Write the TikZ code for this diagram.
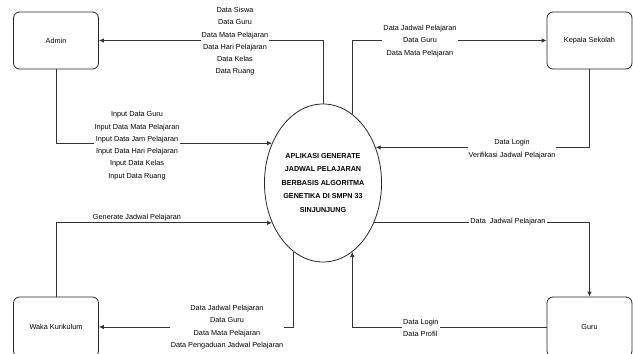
\documentclass[tikz,border=0pt]{standalone}
\usepackage{fontspec}
\setmainfont{Liberation Sans}
\usetikzlibrary{shapes.geometric,arrows.meta}

\begin{document}
\begin{tikzpicture}[x=1pt,y=-1pt,
  entity/.style={draw=black!85,line width=0.8pt,rounded corners=6pt,minimum width=85pt,inner sep=0pt,
    font=\fontsize{7.3}{9}\selectfont},
  process/.style={draw=black!85,line width=0.8pt,ellipse,minimum width=112pt,minimum height=158pt,inner sep=0pt,
    align=center,font=\fontsize{7.2}{13.5}\selectfont\bfseries},
  flow/.style={draw=black!80,line width=0.8pt,-{Latex[length=5pt,width=4.5pt]}},
  flowlabel/.style={fill=white,inner sep=1pt,align=center,font=\fontsize{7.3}{12.3}\selectfont}
]
\useasboundingbox (0,0) rectangle (633,354);
\clip (0,0) rectangle (633,354);

% external entities
\node[entity,minimum height=57pt] (admin)  at (56,40.5)   {Admin};
\node[entity,minimum height=57pt] (kepsek) at (589.5,40.5) {Kepala Sekolah};
\node[entity,minimum height=60pt] (waka)   at (56,327)    {Waka Kurikulum};
\node[entity,minimum height=60pt] (guru)   at (589.5,327) {Guru};

% the process
\node[process] (proc) at (323,183)
  {APLIKASI GENERATE\\JADWAL PELAJARAN\\BERBASIS ALGORITMA\\GENETIKA DI SMPN 33\\SINJUNJUNG};

% data flows
\draw[flow] (proc.north) |- (admin.east);
\draw[flow] (proc.67.7) |- (kepsek.west);
\draw[flow] (kepsek.south) |- (proc.34.9);
\draw[flow] (admin.south) |- (proc.142.3);
\draw[flow] (waka.north) |- (proc.218.7);
\draw[flow] (proc.247.7) |- (waka.east);
\draw[flow] (proc.-38.7) -| (guru.north);
\draw[flow] (guru.west) -| (proc.-67.7);

% flow labels
\node[flowlabel] (l1) at (235,41.3)
  {Data Siswa\\Data Guru\\Data Mata Pelajaran\\Data Hari Pelajaran\\Data Kelas\\Data Ruang};
\node[flowlabel] (l2) at (420,41)
  {Data Jadwal Pelajaran\\Data Guru\\Data Mata Pelajaran};
\node[flowlabel] (l3) at (512,149)
  {Data Login\\Verifikasi Jadwal Pelajaran};
\node[flowlabel] (l4) at (137,145.7)
  {Input Data Guru\\Input Data Mata Pelajaran\\Input Data Jam Pelajaran\\Input Data Hari Pelajaran\\Input Data Kelas\\Input Data Ruang};
\node[flowlabel] (l5) at (137,218) {Generate Jadwal Pelajaran};
\node[flowlabel] (l6) at (227,327)
  {Data Jadwal Pelajaran\\Data Guru\\Data Mata Pelajaran\\Data Pengaduan Jadwal Pelajaran};
\node[flowlabel] (l7) at (508,221.5) {Data\ \ Jadwal Pelajaran};
\node[flowlabel,align=left,anchor=west] (l8) at (402,328) {Data Login\\Data Profil};
\end{tikzpicture}
\end{document}
